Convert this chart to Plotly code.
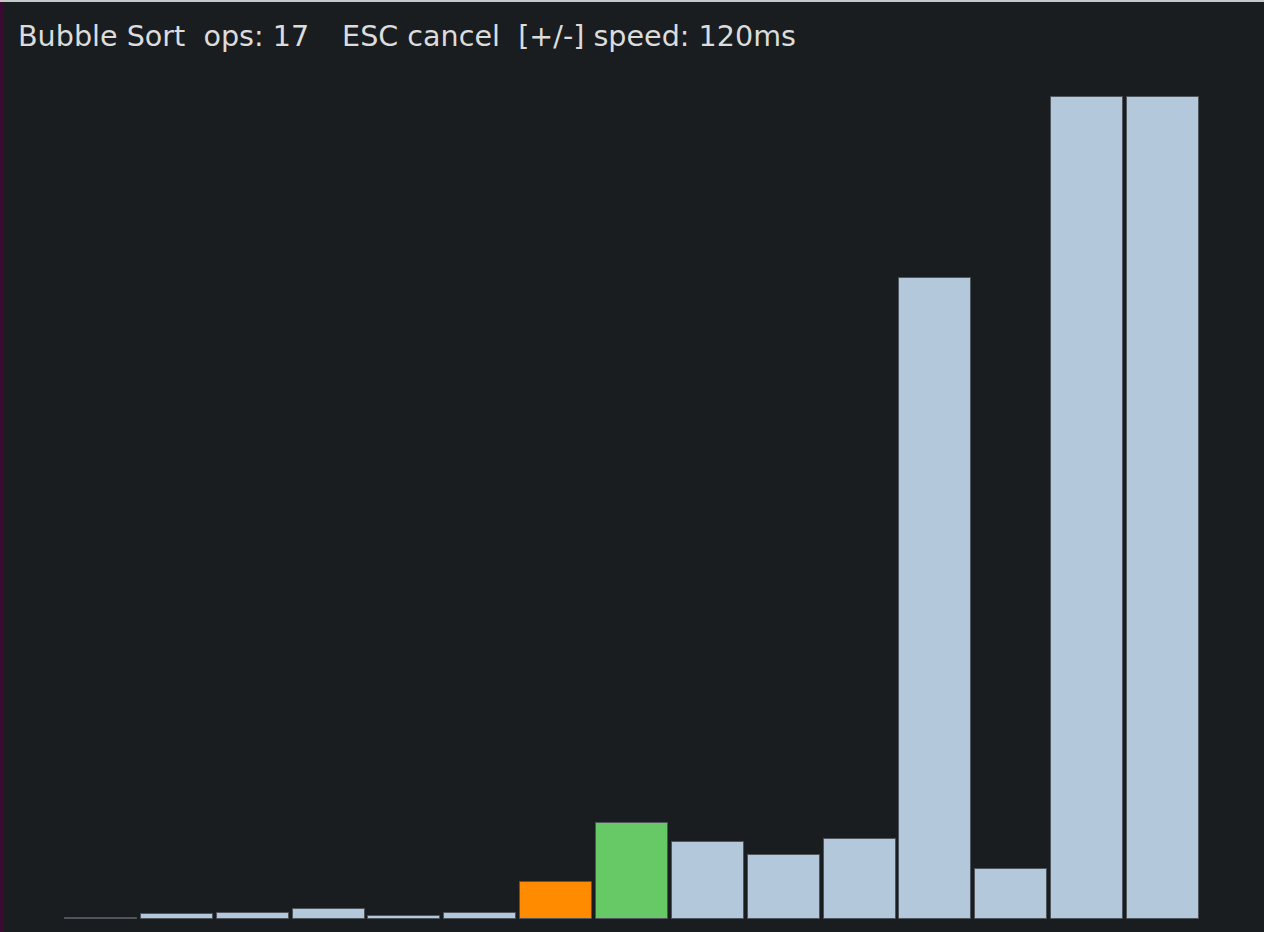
import plotly.graph_objects as go

# Data
positions = list(range(15))
values = [1, 5, 6, 10, 3, 6, 37, 96, 77, 64, 80, 641, 50, 822, 822]
bar_colors = ["#b4c8dc"] * 6 + ["#ff8c00", "#66c966"] + ["#b4c8dc"] * 7
title_text = ("Bubble Sort\u00a0\u00a0ops: 17\u00a0\u00a0\u00a0\u2009ESC cancel"
              "\u00a0\u00a0[+/-] speed: 120ms")

BG = "#1a1d20"

fig = go.Figure()
fig.add_trace(go.Bar(
    x=positions,
    y=values,
    width=0.949,
    marker=dict(color=bar_colors, line=dict(color="#4f555c", width=1)),
    hoverinfo="skip",
))

fig.update_layout(
    width=1264,
    height=932,
    margin=dict(l=0, r=0, t=0, b=0),
    paper_bgcolor=BG,
    plot_bgcolor=BG,
    showlegend=False,
    bargap=0,
    xaxis=dict(range=[-1.331, 15.331], visible=False, fixedrange=True),
    yaxis=dict(range=[-13.5, 918.5], visible=False, fixedrange=True),
    annotations=[dict(
        text=title_text,
        xref="paper", yref="paper",
        x=16 / 1264, y=1 - 36 / 932,
        xanchor="left", yanchor="middle",
        showarrow=False,
        font=dict(family="DejaVu Sans", size=28.6, color="#dcdcdc"),
    )],
    shapes=[
        dict(type="rect", xref="paper", yref="paper", x0=0, x1=1, y0=1 - 2 / 932, y1=1,
             fillcolor="#c8c8c8", line=dict(width=0), layer="above"),
        dict(type="rect", xref="paper", yref="paper", x0=0, x1=3 / 1264, y0=0, y1=1 - 2 / 932,
             fillcolor="#3a0a32", line=dict(width=0), layer="above"),
    ],
)

fig.write_html(
    "out.html",
    config={"displayModeBar": False},
    post_script="document.body.style.margin='0';document.body.style.overflow='hidden';",
)
